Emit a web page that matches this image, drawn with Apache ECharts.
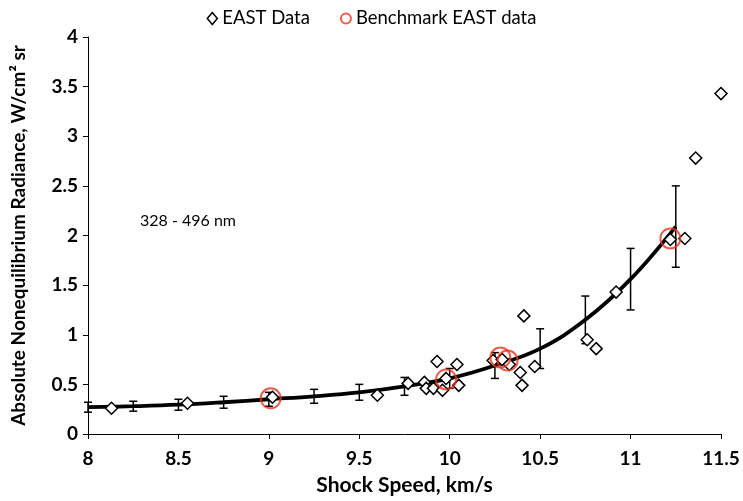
<!DOCTYPE html>
<html>
<head>
<meta charset="utf-8">
<script src="https://cdn.jsdelivr.net/npm/echarts@6/dist/echarts.min.js"></script>
<style>
  html, body { margin: 0; padding: 0; background: #fff; }
  #chart { width: 743px; height: 501px; }
</style>
</head>
<body>
<div id="chart"></div>
<script>
// EAST measurements [shock speed km/s, radiance]
const eastData = [
  [8.13, 0.26], [8.55, 0.31], [9.02, 0.37], [9.60, 0.39], [9.77, 0.51],
  [9.86, 0.52], [9.87, 0.46], [9.91, 0.46], [9.93, 0.73], [9.96, 0.44],
  [9.98, 0.56], [10.04, 0.70], [10.05, 0.49], [10.24, 0.74], [10.29, 0.75],
  [10.33, 0.70], [10.39, 0.62], [10.40, 0.49], [10.41, 1.19], [10.47, 0.68],
  [10.76, 0.95], [10.81, 0.86], [10.92, 1.43], [11.22, 1.96], [11.30, 1.97],
  [11.36, 2.78], [11.50, 3.43]
];

// benchmark points (red rings)
const benchData = [
  [9.01, 0.36], [9.98, 0.55], [10.28, 0.77], [10.32, 0.74], [11.22, 1.97]
];

// fit curve and its error bars
const fitX = [8.0, 8.25, 8.5, 8.75, 9.0, 9.25, 9.5, 9.75, 10.0, 10.25, 10.5, 10.75, 11.0, 11.25];
const fitY = [0.27, 0.28, 0.295, 0.32, 0.35, 0.38, 0.42, 0.48, 0.56, 0.69, 0.86, 1.15, 1.56, 2.09];
const fitErr = [0.05, 0.05, 0.055, 0.06, 0.07, 0.07, 0.08, 0.09, 0.10, 0.13, 0.20, 0.24, 0.31, 0.41];

const xTicks = [8, 8.5, 9, 9.5, 10, 10.5, 11, 11.5];
const yTicks = [0, 0.5, 1, 1.5, 2, 2.5, 3, 3.5, 4];

const FONT = 'Lato';

const lineData = fitX.map((x, i) => [x, fitY[i]]);
const errData = fitX.map((x, i) => [x, fitY[i] - fitErr[i], fitY[i] + fitErr[i]]);

const chart = echarts.init(document.getElementById('chart'));

const option = {
  animation: false,
  textStyle: { fontFamily: FONT },
  grid: { left: 88, right: 22, top: 37, bottom: 64 },
  legend: {
    top: 4,
    left: 'center',
    itemGap: 30,
    itemWidth: 10,
    itemHeight: 12,
    textStyle: { fontFamily: FONT, fontSize: 18.5, color: '#000' },
    data: [
      { name: 'EAST Data', icon: 'diamond', itemStyle: { color: '#fff', borderColor: '#000', borderWidth: 1.5 } },
      { name: 'Benchmark EAST data', icon: 'circle', itemStyle: { color: 'rgba(0,0,0,0)', borderColor: '#e8341c', borderWidth: 2 } }
    ]
  },
  xAxis: {
    type: 'value',
    min: xTicks[0],
    max: xTicks[xTicks.length - 1],
    interval: 0.5,
    name: 'Shock Speed, km/s',
    nameLocation: 'middle',
    nameGap: 41,
    nameTextStyle: { fontFamily: FONT, fontSize: 21, fontWeight: 'bold', color: '#000' },
    axisLine: { lineStyle: { color: '#000', width: 1 } },
    axisTick: { show: true, length: 5, lineStyle: { color: '#000' } },
    axisLabel: { fontFamily: FONT, fontSize: 19, fontWeight: 'bold', color: '#000', margin: 15 },
    splitLine: { show: false }
  },
  yAxis: {
    type: 'value',
    min: yTicks[0],
    max: yTicks[yTicks.length - 1],
    interval: 0.5,
    name: 'Absolute Nonequilibrium Radiance, W/cm² sr',
    nameLocation: 'middle',
    nameGap: 60,
    nameTextStyle: { fontFamily: FONT, fontSize: 19, fontWeight: 'bold', color: '#000' },
    axisLine: { show: true, lineStyle: { color: '#000', width: 1 } },
    axisTick: { show: true, length: 5, lineStyle: { color: '#000' } },
    axisLabel: { fontFamily: FONT, fontSize: 19, fontWeight: 'bold', color: '#000', margin: 10 },
    splitLine: { show: false }
  },
  graphic: [
    {
      type: 'text',
      left: 140,
      top: 213,
      style: { text: '328 - 496 nm', fontFamily: FONT, fontSize: 16, fill: '#000' }
    }
  ],
  series: [
    {
      name: 'fit',
      type: 'line',
      data: lineData,
      smooth: 0.4,
      showSymbol: false,
      lineStyle: { color: '#000', width: 3.8 },
      z: 2
    },
    {
      name: 'error',
      type: 'custom',
      data: errData,
      renderItem: function (params, api) {
        const x = api.value(0);
        const lo = api.coord([x, api.value(1)]);
        const hi = api.coord([x, api.value(2)]);
        const cap = 4;
        const style = { stroke: '#000', lineWidth: 1.5 };
        return {
          type: 'group',
          children: [
            { type: 'line', shape: { x1: lo[0], y1: lo[1], x2: hi[0], y2: hi[1] }, style: style },
            { type: 'line', shape: { x1: hi[0] - cap, y1: hi[1], x2: hi[0] + cap, y2: hi[1] }, style: style },
            { type: 'line', shape: { x1: lo[0] - cap, y1: lo[1], x2: lo[0] + cap, y2: lo[1] }, style: style }
          ]
        };
      },
      z: 3
    },
    {
      name: 'EAST Data',
      type: 'scatter',
      data: eastData,
      symbol: 'diamond',
      symbolSize: [12, 12],
      itemStyle: { color: '#fff', borderColor: '#000', borderWidth: 1.5, opacity: 1 },
      z: 4
    },
    {
      name: 'Benchmark EAST data',
      type: 'scatter',
      data: benchData,
      symbol: 'circle',
      symbolSize: 20,
      itemStyle: { color: 'rgba(0,0,0,0)', borderColor: '#e8341c', borderWidth: 2 },
      z: 5
    }
  ]
};

chart.setOption(option);
</script>
</body>
</html>
